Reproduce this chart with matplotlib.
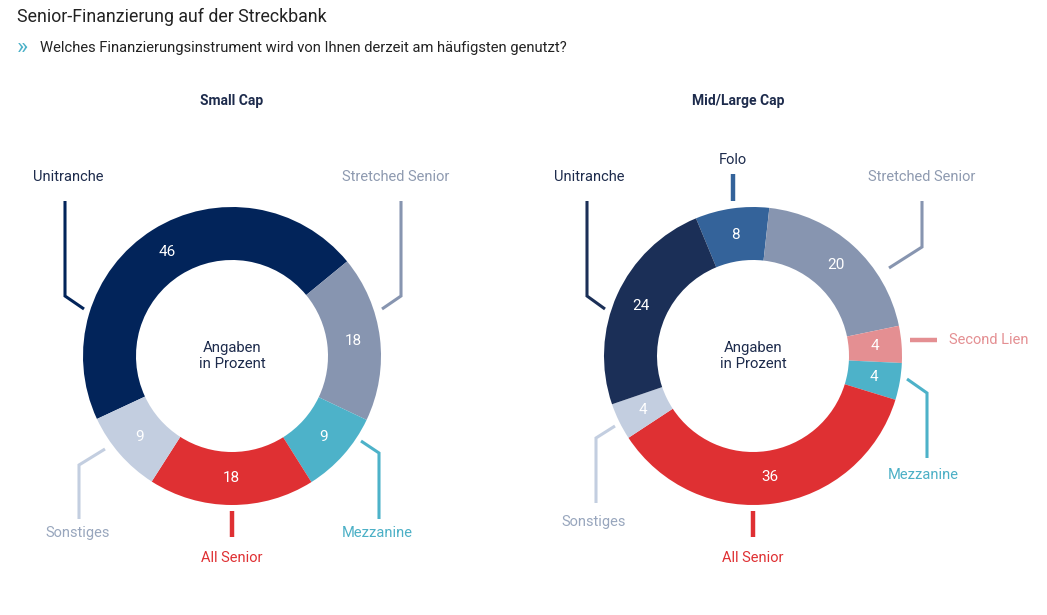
import matplotlib.pyplot as plt

plt.rcParams['font.family'] = ['Roboto', 'DejaVu Sans']

W, H = 1047, 615

# data
small_cats = ['Unitranche', 'Stretched Senior', 'Mezzanine', 'All Senior', 'Sonstiges']
small_vals = [46, 18, 9, 18, 9]
small_cols = ['#02245a', '#8795b0', '#4db2c9', '#df3033', '#c3cee0']

large_cats = ['Folo', 'Stretched Senior', 'Second Lien', 'Mezzanine', 'All Senior',
              'Sonstiges', 'Unitranche']
large_vals = [8, 20, 4, 4, 36, 4, 24]
large_cols = ['#34639a', '#8795b0', '#e48f92', '#4db2c9', '#df3033', '#c3cee0', '#1b2f57']

label_cols = {'Unitranche': '#1d2b4c', 'Folo': '#1d2b4c', 'Stretched Senior': '#8e9ab0',
              'Second Lien': '#e48f92', 'Mezzanine': '#4cb0c6', 'All Senior': '#df3033',
              'Sonstiges': '#98a6bd'}


def Y(py):
    return H - py


fig = plt.figure(figsize=(W / 100, H / 100), dpi=100)
ax = fig.add_axes([0, 0, 1, 1])

R, HOLE = 149, 96


def donut(cx, cy, vals, cols, start):
    ax.pie(vals, colors=cols, startangle=start, counterclock=False,
           center=(cx, Y(cy)), radius=R, frame=True,
           labels=[str(v) for v in vals], labeldistance=(R + HOLE) / 2 / R,
           textprops=dict(color='white', fontsize=11, ha='center', va='center'),
           wedgeprops=dict(width=R - HOLE, linewidth=0))
    ax.text(cx, Y(cy), 'Angaben\nin Prozent', ha='center', va='center',
            fontsize=10.7, color='#1d2b4c', linespacing=1.2)


donut(232, 356, small_vals, small_cols, 205)
donut(753, 356, large_vals, large_cols, 112.5)

# leader lines: points in px and line width per category
small_leaders = {
    'Unitranche': ([(65, 201), (65, 296), (84, 309)], 2.2),
    'Stretched Senior': ([(401, 201), (401, 296), (382, 309)], 2.2),
    'Mezzanine': ([(361, 441), (379, 453), (379, 519)], 2.2),
    'All Senior': ([(232, 511), (232, 537)], 3.2),
    'Sonstiges': ([(105, 449), (79, 465), (79, 519)], 2.2),
}
small_text = {
    'Unitranche': (33, 177, 'left'),
    'Stretched Senior': (449, 177, 'right'),
    'Mezzanine': (377, 533, 'center'),
    'All Senior': (232, 558, 'center'),
    'Sonstiges': (78, 533, 'center'),
}
large_leaders = {
    'Unitranche': ([(587, 201), (587, 296), (605, 309)], 2.2),
    'Folo': ([(733, 174), (733, 201)], 3.2),
    'Stretched Senior': ([(922, 201), (922, 247), (889, 268)], 2.2),
    'Second Lien': ([(910, 340), (937, 340)], 3.2),
    'Mezzanine': ([(907, 379), (927, 393), (927, 458)], 2.2),
    'All Senior': ([(753, 511), (753, 537)], 3.2),
    'Sonstiges': ([(615, 426), (596, 438), (596, 503)], 2.2),
}
large_text = {
    'Unitranche': (554, 177, 'left'),
    'Folo': (733, 160, 'center'),
    'Stretched Senior': (975, 177, 'right'),
    'Second Lien': (949, 340, 'left'),
    'Mezzanine': (923, 475, 'center'),
    'All Senior': (753, 558, 'center'),
    'Sonstiges': (594, 522, 'center'),
}

for cats, cols, leaders, texts in [(small_cats, small_cols, small_leaders, small_text),
                                   (large_cats, large_cols, large_leaders, large_text)]:
    for cat, col in zip(cats, cols):
        pts, lw = leaders[cat]
        ax.plot([p[0] for p in pts], [Y(p[1]) for p in pts], color=col, lw=lw,
                solid_capstyle='butt', solid_joinstyle='miter')
        tx, ty, ha = texts[cat]
        ax.text(tx, Y(ty), cat, ha=ha, va='center', fontsize=10.5, color=label_cols[cat])

# titles
ax.text(17, Y(17), 'Senior-Finanzierung auf der Streckbank', ha='left', va='center',
        fontsize=12.8, color='#222222')
ax.text(17, Y(47), '»', ha='left', va='center', fontsize=17, color='#4db2c9')
ax.text(40, Y(48), 'Welches Finanzierungsinstrument wird von Ihnen derzeit am häufigsten genutzt?',
        ha='left', va='center', fontsize=10.6, color='#222222')
ax.text(232, Y(101), 'Small Cap', ha='center', va='center', fontsize=10,
        fontweight='bold', color='#1d2b4c')
ax.text(738, Y(101), 'Mid/Large Cap', ha='center', va='center', fontsize=10,
        fontweight='bold', color='#1d2b4c')

ax.set_xlim(0, W)
ax.set_ylim(0, H)
ax.set_aspect('equal')
ax.axis('off')

fig.savefig('out.png', dpi=100, facecolor='white')
